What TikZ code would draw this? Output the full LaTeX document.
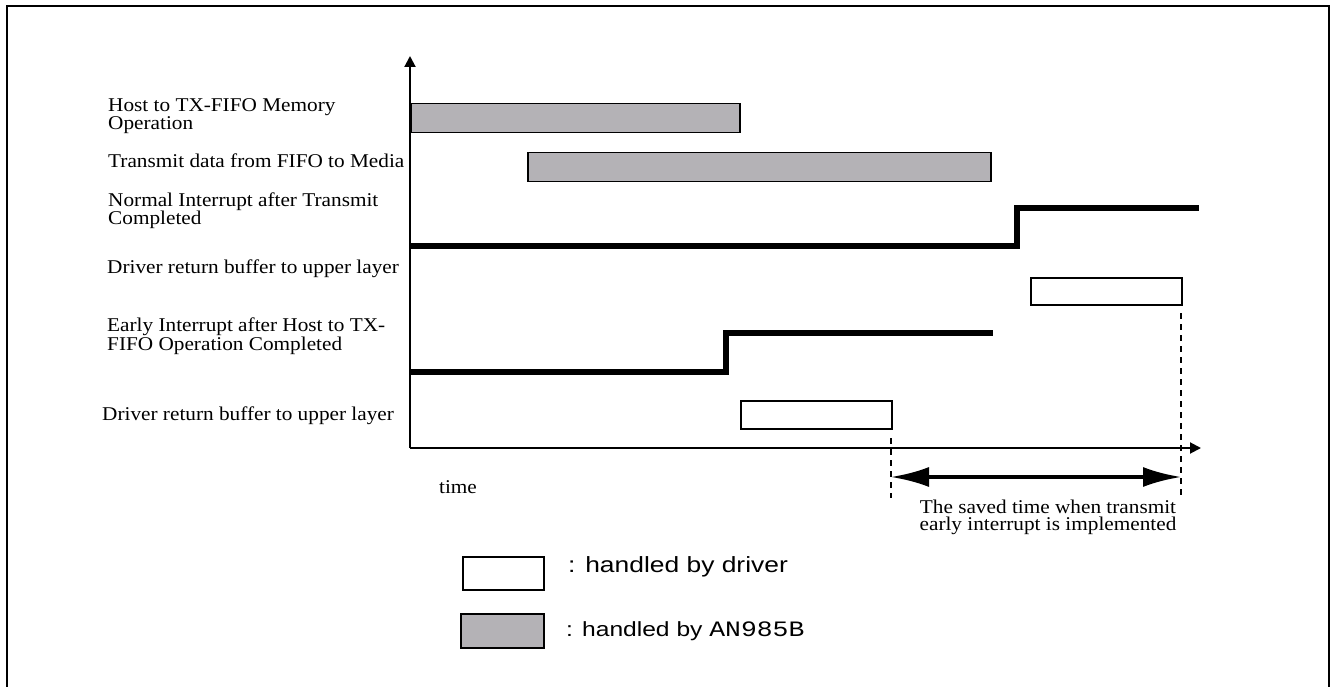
\documentclass[tikz,border=0pt]{standalone}
\usepackage{fontspec}
\setmainfont{Liberation Serif}[FakeStretch=1.09]
\newfontfamily\legsans{Liberation Sans}[FakeStretch=1.2]
\newfontfamily\legmono{Liberation Mono}[FakeStretch=1.2]
\usetikzlibrary{arrows.meta}
\definecolor{bargray}{RGB}{180,178,182}
\tikzset{
  lbl/.style={anchor=base west, inner sep=0pt, align=left, font=\fontsize{19.5}{17}\selectfont},
  legtxt/.style={anchor=base west, inner sep=0pt, font=\legsans\fontsize{22}{24}\selectfont},
  graybar/.style={draw=black, line width=1.5pt, fill=bargray, anchor=north west, inner sep=0pt},
  whitebox/.style={draw=black, line width=1.5pt, fill=white, anchor=north west, inner sep=0pt},
  axisline/.style={line width=2pt, -{Triangle[length=11pt,width=11pt]}},
  sigline/.style={line width=6pt, line join=miter, line cap=butt},
  guide/.style={line width=1.5pt, dash pattern=on 6pt off 5pt},
  savedarrow/.style={line width=3.5pt, {Latex[length=38pt,width=20pt]}-{Latex[length=38pt,width=20pt]}},
  frameline/.style={line width=2pt}
}
\begin{document}
\begin{tikzpicture}[x=1pt,y=-1pt]
\useasboundingbox (0,0) rectangle (1331,687);
% frame
\coordinate (fbl) at (7,690);
\coordinate (ftl) at (7,6);
\coordinate (ftr) at (1329,6);
\coordinate (fbr) at (1329,690);
\draw[frameline] (fbl) -- (ftl) -- (ftr) -- (fbr);

% bars and boxes
\node[graybar, minimum width=329pt, minimum height=29pt] (hostbar) at (410,103) {};
\node[graybar, minimum width=463pt, minimum height=29pt] (txbar) at (527,152) {};
\node[whitebox, minimum width=151pt, minimum height=27pt] (drv1) at (1030,277) {};
\node[whitebox, minimum width=151pt, minimum height=28pt] (drv2) at (740,400) {};

% axes
\coordinate (o) at (410,448);
\coordinate (ytip) at (410,56);
\coordinate (xtip) at (1201,448);
\draw[axisline] (o) -- (ytip);
\draw[axisline] (o) -- (xtip);

% signals
\coordinate (n0) at (410,246);
\coordinate (n1) at (1017,246);
\coordinate (n2) at (1017,208);
\coordinate (n3) at (1199,208);
\draw[sigline] (n0) -- (n1) -- (n2) -- (n3);
\coordinate (e0) at (410,372);
\coordinate (e1) at (726,372);
\coordinate (e2) at (726,333);
\coordinate (e3) at (993,333);
\draw[sigline] (e0) -- (e1) -- (e2) -- (e3);

% guides
\coordinate (g1a) at (1181,313);
\coordinate (g1b) at (1181,498);
\coordinate (g2a) at (891,438);
\coordinate (g2b) at (891,498);
\draw[guide] (g1a) -- (g1b);
\draw[guide] (g2a) -- (g2b);
\coordinate (sa) at (891,477);
\coordinate (sb) at (1181,477);
\draw[savedarrow] (sa) -- (sb);

% labels (base = last line's baseline)
\node[lbl] (l1) at (108,130) {Host to TX-FIFO Memory\\Operation};
\node[lbl] (l2) at (108,168) {Transmit data from FIFO to Media};
\node[lbl] (l3) at (108,225) {Normal Interrupt after Transmit\\Completed};
\node[lbl] (l4) at (107,273) {Driver return buffer to upper layer};
\node[lbl] (l5) at (107,350) {Early Interrupt after Host to TX-\\FIFO Operation Completed};
\node[lbl] (l6) at (102,420) {Driver return buffer to upper layer};
\node[lbl, anchor=base] (ltime) at (458,493) {time};
\node[lbl, anchor=base, align=center] (lsaved) at (1048,530) {The saved time when transmit\\early interrupt is implemented};

% legend
\node[whitebox, minimum width=81pt, minimum height=33pt] (legw) at (462,556) {};
\node[graybar, minimum width=83pt, minimum height=34pt] (legg) at (460,613) {};
\node[legtxt] (legwt) at (568,572) {: handled by driver};
\node[legtxt, font=\legsans\fontsize{20.5}{24}\selectfont] (leggt) at (566,636) {: handled by {\legmono\fontsize{22}{24}\selectfont AN985B}};
\end{tikzpicture}
\end{document}
